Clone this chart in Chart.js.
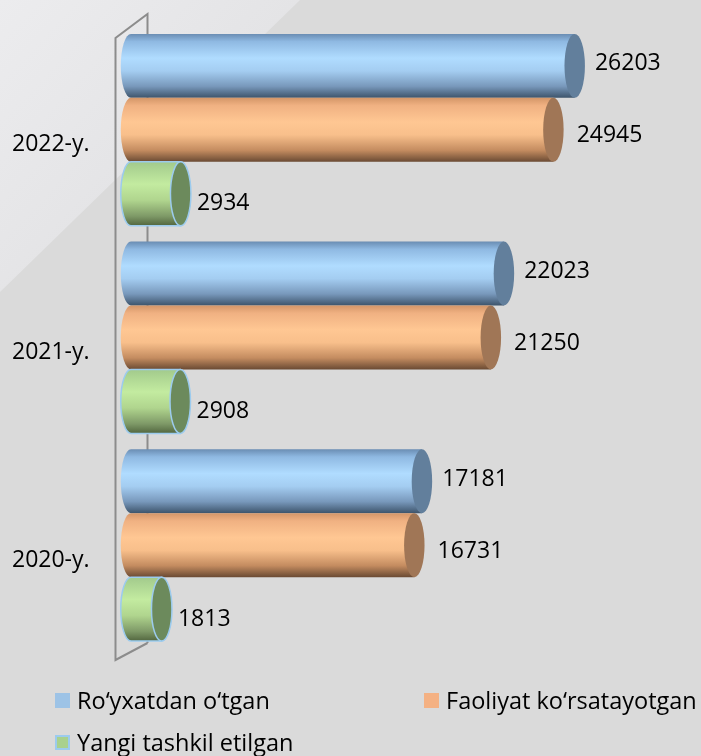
<!DOCTYPE html>
<html>
<head>
<meta charset="utf-8">
<script src="https://cdn.jsdelivr.net/npm/chart.js@4/dist/chart.umd.min.js"></script>
<style>
  html, body { margin: 0; padding: 0; background: #dadada; }
  #wrap { position: relative; width: 701px; height: 756px; overflow: hidden; }
  #chart { position: absolute; left: 0; top: 0; }
  #legend {
    position: absolute; left: 55px; top: 679px; width: 646px;
    display: grid; grid-template-columns: 369px auto; grid-auto-rows: 42px;
    font-family: "Open Sans", sans-serif; font-size: 23.5px; color: #000;
  }
  .item { display: flex; align-items: center; white-space: nowrap; }
  .sw { width: 15px; height: 15px; margin-right: 7px; box-sizing: border-box; }
</style>
</head>
<body>
<div id="wrap">
  <canvas id="chart" width="701" height="756"></canvas>
  <div id="legend"></div>
</div>
<script>
// ---------- data ----------
const YEARS = ['2022-y.', '2021-y.', '2020-y.'];
const REGISTERED = [26203, 22023, 17181];
const ACTIVE = [24945, 21250, 16731];
const NEWLY_FORMED = [2934, 2908, 1813];
const SERIES_NAMES = ['Ro‘yxatdan o‘tgan', 'Faoliyat ko‘rsatayotgan', 'Yangi tashkil etilgan'];
const X_MAX = 30000;

// ---------- look of each cylinder ----------
const STYLES = [
  { swatch: '#9dc3e6', cap: '#627f9c', edge: null, labelDx: 10, labelDy: -2,
    stops: [[0,'#6a8db3'],[0.12,'#8fb9e2'],[0.38,'#b0dcff'],[0.58,'#a4cdf1'],[0.82,'#7898bb'],[1,'#3d546b']] },
  { swatch: '#f4b183', cap: '#a07656', edge: null, labelDx: 13, labelDy: 6,
    stops: [[0,'#d49668'],[0.12,'#f0b182'],[0.38,'#ffc793'],[0.58,'#f8bf8b'],[0.82,'#c48c60'],[1,'#6a4a33']] },
  { swatch: '#a9d18e', cap: '#6c8a5c', edge: '#9ccbee', labelDx: 6, labelDy: 10,
    stops: [[0,'#a2ca8c'],[0.35,'#c3eba0'],[0.6,'#b0d58e'],[0.85,'#7e9967'],[1,'#52663f']] },
];

const FONT = '"Open Sans", sans-serif';

function $(id){ return document.getElementById(id); }

// flat grey backdrop with a lighter wedge in the top-left corner
const backdrop = {
  id: 'backdrop',
  beforeDraw(chart){
    const ctx = chart.ctx;
    ctx.save();
    ctx.fillStyle = '#dadada';
    ctx.fillRect(0, 0, chart.width, chart.height);
    const g = ctx.createLinearGradient(0, 0, 160, 150);
    g.addColorStop(0, '#ececee');
    g.addColorStop(1, '#e4e4e6');
    ctx.fillStyle = g;
    ctx.beginPath();
    ctx.moveTo(0, 0); ctx.lineTo(300, 0); ctx.lineTo(0, 292); ctx.closePath();
    ctx.fill();
    ctx.restore();
  }
};

// 3D side wall: front edge, back edge and the two slanted corners
const wall = {
  id: 'wall',
  beforeDatasetsDraw(chart){
    const { ctx, chartArea: a } = chart;
    const front = a.left - 15.5, back = a.left + 16.5;
    ctx.save();
    ctx.strokeStyle = '#8c8c8c';
    ctx.lineWidth = 2;
    ctx.beginPath();
    ctx.moveTo(back, a.bottom - 6);
    ctx.lineTo(back, a.top - 12);
    ctx.lineTo(front, a.top + 12);
    ctx.lineTo(front, a.bottom + 11);
    ctx.lineTo(back, a.bottom - 6);
    ctx.stroke();
    ctx.restore();
  }
};

function drawCylinder(ctx, x0, x1, yc, h, st){
  const top = yc - h / 2, bot = yc + h / 2, rx = h * 0.16;
  const g = ctx.createLinearGradient(0, top, 0, bot);
  st.stops.forEach(s => g.addColorStop(s[0], s[1]));

  ctx.beginPath();
  ctx.moveTo(x1, top);
  ctx.lineTo(x0, top);
  ctx.ellipse(x0, yc, rx, h / 2, 0, -Math.PI / 2, Math.PI / 2, true);
  ctx.lineTo(x1, bot);
  ctx.closePath();
  ctx.fillStyle = g;
  ctx.fill();
  if (st.edge){ ctx.strokeStyle = st.edge; ctx.lineWidth = 1.5; ctx.stroke(); }

  ctx.beginPath();
  ctx.ellipse(x1, yc, rx, h / 2, 0, 0, Math.PI * 2);
  ctx.fillStyle = st.cap;
  ctx.fill();
  if (st.edge){ ctx.strokeStyle = st.edge; ctx.lineWidth = 1.5; ctx.stroke(); }
  return rx;
}

// bars are drawn as cylinders with their value to the right
const cylinders = {
  id: 'cylinders',
  afterDatasetsDraw(chart){
    const ctx = chart.ctx;
    ctx.save();
    chart.data.datasets.forEach((ds, di) => {
      const st = STYLES[di];
      chart.getDatasetMeta(di).data.forEach((bar, i) => {
        const p = bar.getProps(['x', 'y', 'base', 'height'], true);
        const rx = drawCylinder(ctx, p.base, p.x, p.y, p.height, st);
        ctx.fillStyle = '#000';
        ctx.font = '23px ' + FONT;
        ctx.textAlign = 'left';
        ctx.textBaseline = 'middle';
        ctx.fillText(String(ds.data[i]), p.x + rx + st.labelDx, p.y + st.labelDy);
      });
    });
    ctx.restore();
  }
};

const chart = new Chart($('chart'), {
  type: 'bar',
  data: {
    labels: YEARS,
    datasets: [REGISTERED, ACTIVE, NEWLY_FORMED].map((d, i) => ({
      label: SERIES_NAMES[i], data: d,
      backgroundColor: 'rgba(0,0,0,0)', borderWidth: 0,
      barPercentage: 1, categoryPercentage: 0.924
    }))
  },
  options: {
    indexAxis: 'y', responsive: false, animation: false,
    layout: { padding: { left: 12, right: 62, top: 26, bottom: 107 } },
    plugins: { legend: { display: false }, tooltip: { enabled: false } },
    scales: {
      x: { display: false, min: 0, max: X_MAX },
      y: {
        grid: { display: false }, border: { display: false },
        ticks: { color: '#000', font: { family: FONT, size: 23 }, crossAlign: 'far', labelOffset: 15, padding: 0 },
        afterFit(s){ s.width = 119; }
      }
    }
  },
  plugins: [backdrop, wall, cylinders]
});

// legend laid out in two columns under the plot
$('legend').innerHTML = chart.data.datasets.map((ds, i) => `
  <div class="item"><span class="sw" style="background:${STYLES[i].swatch};${STYLES[i].edge ? 'border:2px solid ' + STYLES[i].edge : ''}"></span>${ds.label}</div>
`).join('');
</script>
</body>
</html>
